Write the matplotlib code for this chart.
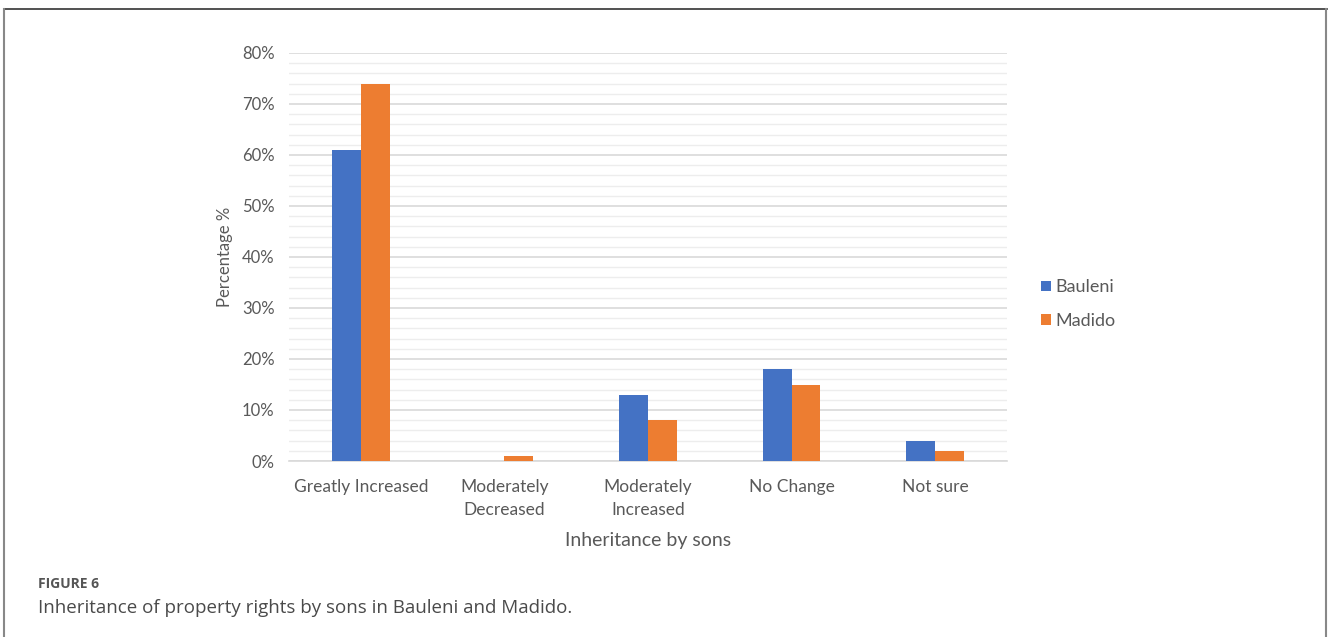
import numpy as np
import matplotlib
matplotlib.use('Agg')
import matplotlib.pyplot as plt
from matplotlib.ticker import MultipleLocator, PercentFormatter
from matplotlib.lines import Line2D

# data (percent)
categories = ['Greatly Increased', 'Moderately\nDecreased', 'Moderately\nIncreased', 'No Change', 'Not sure']
bauleni = [61, 0, 13, 18, 4]
madido = [74, 1, 8, 15, 2]
series_names = ['Bauleni', 'Madido']

W, H = 1328, 637
fig = plt.figure(figsize=(W / 100, H / 100), dpi=100)
fig.patch.set_facecolor('white')

# plot area in pixels: x 289..1007, y 53..461
ax = fig.add_axes([289 / W, 1 - 461 / H, 718 / W, 408 / H])

blue = '#4472C4'
orange = '#ED7D31'
txt = '#595959'
x = np.arange(len(categories))
bw = 0.2
ax.bar(x - bw / 2, bauleni, bw, color=blue, label=series_names[0], zorder=3)
ax.bar(x + bw / 2, madido, bw, color=orange, label=series_names[1], zorder=3)

ax.set_xlim(-0.5, len(categories) - 0.5)
ax.set_ylim(0, 80)
ax.yaxis.set_major_locator(MultipleLocator(10))
ax.yaxis.set_minor_locator(MultipleLocator(2))
ax.yaxis.set_major_formatter(PercentFormatter(decimals=0))
ax.grid(which='major', axis='y', color='#D9D9D9', linewidth=1.2, zorder=0)
ax.grid(which='minor', axis='y', color='#EDEDED', linewidth=1.0, zorder=0)
for s in ['top', 'right', 'left']:
    ax.spines[s].set_visible(False)
ax.spines['bottom'].set_color('#D9D9D9')
ax.spines['bottom'].set_linewidth(1.2)

ax.set_xticks(x)
ax.set_xticklabels(categories, fontfamily='Lato', fontsize=12.5, color=txt, linespacing=1.55)
ax.tick_params(axis='x', length=0, pad=13)
ax.tick_params(axis='y', which='both', length=0, pad=10.5, labelsize=12, labelcolor=txt)
for lab in ax.get_yticklabels():
    lab.set_fontfamily('Lato')

ax.set_ylabel('Percentage %', fontfamily='Lato', fontsize=12, color=txt, labelpad=6)
ax.set_xlabel('Inheritance by sons', fontfamily='Lato', fontsize=14, color=txt, labelpad=10)

leg = ax.legend(loc='center left', bbox_to_anchor=(1041 / W, 1 - 304 / H),
                bbox_transform=fig.transFigure, frameon=False,
                borderaxespad=0, borderpad=0,
                handlelength=0.55, handleheight=0.55, handletextpad=0.25,
                labelspacing=0.95, prop={'family': 'Lato', 'size': 13})
for t in leg.get_texts():
    t.set_color(txt)

# caption
fig.text(38 / W, 1 - 584 / H, 'FIGURE 6', fontfamily='Open Sans', fontsize=10,
         fontweight='bold', color='#555555', va='center', ha='left')
fig.text(38 / W, 1 - 608 / H, 'Inheritance of property rights by sons in Bauleni and Madido.',
         fontfamily='Open Sans', fontsize=13.5, color='#4a4a4a', va='center', ha='left')

# frame around the figure (top, left, right)
fig.add_artist(Line2D([4 / W, 1327 / W], [1 - 9 / H, 1 - 9 / H], transform=fig.transFigure,
                      color='#333333', linewidth=1.2))
fig.add_artist(Line2D([4 / W, 4 / W], [0, 1 - 9 / H], transform=fig.transFigure,
                      color='#888888', linewidth=1.5))
fig.add_artist(Line2D([1326 / W, 1326 / W], [0, 1 - 9 / H], transform=fig.transFigure,
                      color='#888888', linewidth=1.5))

fig.savefig('out.png', dpi=100)
